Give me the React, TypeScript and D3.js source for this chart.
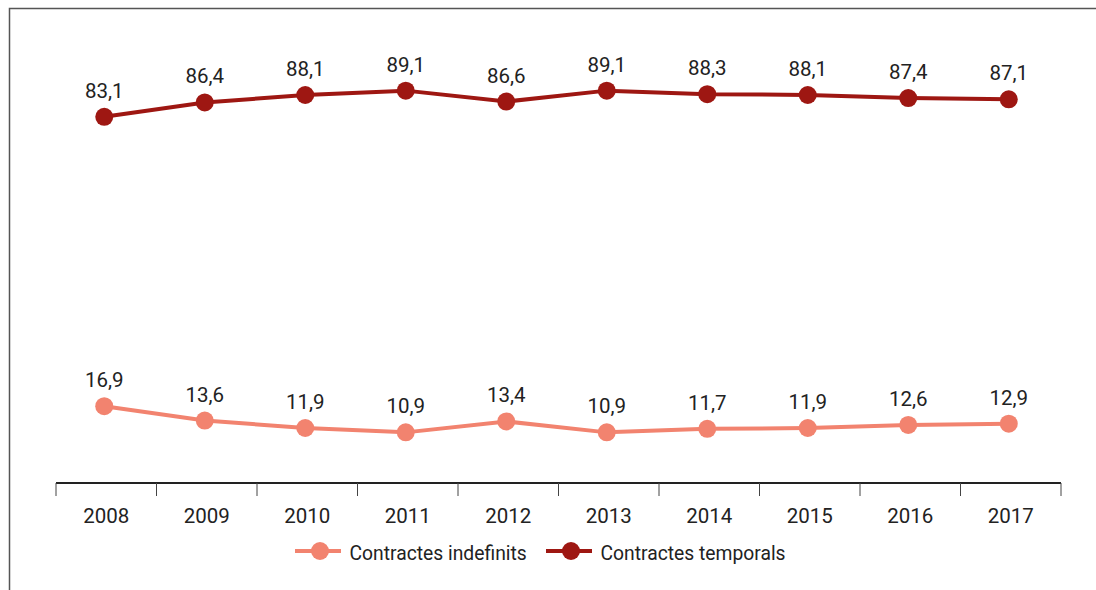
import React from "react";
import * as d3 from "d3";

const years = ["2008", "2009", "2010", "2011", "2012", "2013", "2014", "2015", "2016", "2017"];
const indefinits = [16.9, 13.6, 11.9, 10.9, 13.4, 10.9, 11.7, 11.9, 12.6, 12.9];
const temporals = [83.1, 86.4, 88.1, 89.1, 86.6, 89.1, 88.3, 88.1, 87.4, 87.1];
const seriesNames = ["Contractes indefinits", "Contractes temporals"];
const colors = ["#f2836f", "#9e1712"];

const W = 1096;
const H = 590;
const FONT = "Roboto, 'Noto Sans', sans-serif";

export default function App() {
  const x = d3.scaleBand<string>().domain(years).range([56, 1061]);
  const y = d3.scaleLinear().domain([0, 100]).range([480, 43]);
  const cxOf = (i: number) => (x(years[i]) as number) + x.bandwidth() / 2 - 2;
  const line = d3
    .line<number>()
    .x((_, i) => cxOf(i))
    .y((d) => y(d));
  const series = [indefinits, temporals];
  const fmt = (v: number) => v.toFixed(1).replace(".", ",");
  const ticks = [...years.map((yr) => x(yr) as number), 1061];
  const legendX = [295, 546];

  return (
    <svg
      width={W}
      height={H}
      style={{ position: "absolute", left: 0, top: 0, background: "#fff" }}
      fontFamily={FONT}
    >
      <path d={`M9.5,${H} V8.5 H${W}`} fill="none" stroke="#555" strokeWidth={1.5} />
      <line x1={56} x2={1061} y1={483} y2={483} stroke="#222" strokeWidth={2} />
      {ticks.map((t, i) => (
        <line key={i} x1={t} x2={t} y1={483} y2={496} stroke="#444" strokeWidth={1} />
      ))}
      {years.map((yr) => (
        <text
          key={yr}
          x={(x(yr) as number) + x.bandwidth() / 2}
          y={522.5}
          textAnchor="middle"
          fontSize={20.5}
          fill="#222"
        >
          {yr}
        </text>
      ))}
      {series.map((s, si) => (
        <g key={si}>
          <path d={line(s) || ""} fill="none" stroke={colors[si]} strokeWidth={4} />
          {s.map((v, i) => (
            <g key={i}>
              <circle cx={cxOf(i)} cy={y(v)} r={9} fill={colors[si]} />
              <text x={cxOf(i)} y={y(v) - 19} textAnchor="middle" fontSize={20.5} fill="#222">
                {fmt(v)}
              </text>
            </g>
          ))}
        </g>
      ))}
      {seriesNames.map((n, i) => (
        <g key={n}>
          <line x1={legendX[i]} x2={legendX[i] + 46} y1={551} y2={551} stroke={colors[i]} strokeWidth={4} />
          <circle cx={legendX[i] + 25} cy={551} r={9} fill={colors[i]} />
          <text x={legendX[i] + 54.5} y={559.5} fontSize={19.3} fill="#222">
            {n}
          </text>
        </g>
      ))}
    </svg>
  );
}
